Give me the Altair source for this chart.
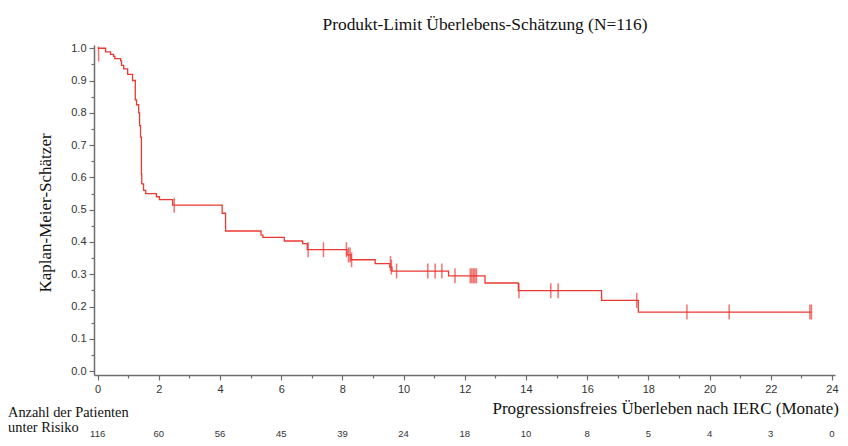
import altair as alt
import pandas as pd

# Kaplan-Meier step curve (event times, survival after event)
km_time = [0, 0.26, 0.42, 0.52, 0.56, 0.75, 0.78, 0.85, 0.98, 1.14, 1.23, 1.27, 1.34, 1.37,
           1.40, 1.43, 1.44, 1.50, 1.57, 1.92, 2.02, 2.45, 4.07, 4.18, 5.34, 5.40, 6.10,
           6.70, 6.85, 8.15, 8.28, 9.07, 9.55, 9.62, 11.47, 12.66, 13.75, 16.47, 17.67, 23.33]
km_surv = [1.0, 0.989, 0.981, 0.975, 0.968, 0.961, 0.947, 0.936, 0.919, 0.90, 0.84, 0.825,
           0.80, 0.76, 0.725, 0.61, 0.58, 0.56, 0.55, 0.54, 0.531, 0.514, 0.489, 0.434,
           0.421, 0.414, 0.403, 0.395, 0.376, 0.36, 0.345, 0.333, 0.322, 0.31, 0.295, 0.273,
           0.249, 0.219, 0.183, 0.183]

# censored observations
cens_time = [0.03, 2.50, 6.88, 7.38, 8.13, 8.20, 8.25, 8.30, 9.57, 9.60, 9.77, 10.79, 11.03,
             11.25, 11.68, 12.18, 12.23, 12.28, 12.33, 12.38, 13.77, 14.81, 15.05, 17.62,
             19.26, 20.64, 23.28, 23.33]
cens_surv = [0.982, 0.514, 0.376, 0.376, 0.376, 0.36, 0.36, 0.345, 0.333, 0.322, 0.31, 0.31,
             0.31, 0.31, 0.295, 0.295, 0.295, 0.295, 0.295, 0.295, 0.249, 0.249, 0.249,
             0.219, 0.183, 0.183, 0.183, 0.183]

# number at risk table
risk_time = [0, 2, 4, 6, 8, 10, 12, 14, 16, 18, 20, 22, 24]
risk_n = [116, 60, 56, 45, 39, 24, 18, 10, 8, 5, 4, 3, 0]

# axis ticks
x_major = [0, 2, 4, 6, 8, 10, 12, 14, 16, 18, 20, 22, 24]
x_minor = [1, 3, 5, 7, 9, 11, 13, 15, 17, 19, 21, 23]
y_major = [0.0, 0.1, 0.2, 0.3, 0.4, 0.5, 0.6, 0.7, 0.8, 0.9, 1.0]
y_minor = [0.05, 0.15, 0.25, 0.35, 0.45, 0.55, 0.65, 0.75, 0.85, 0.95]

title_text = "Produkt-Limit Überlebens-Schätzung (N=116)"
x_title = "Progressionsfreies Überleben nach IERC (Monate)"
y_title = "Kaplan-Meier-Schätzer"
risk_label = ["Anzahl der Patienten", "unter Risiko"]

RED = "#ec3833"
AXC = "#6e6e6e"
SERIF = "Liberation Serif"
SANS = "Liberation Sans"

km = pd.DataFrame({"t": km_time, "s": km_surv})
cens = pd.DataFrame({"t": cens_time, "s": cens_surv})
risk = pd.DataFrame({"t": risk_time, "n": [str(v) for v in risk_n]})

xscale = alt.Scale(domain=[-0.12, 24.1], nice=False, zero=False)
yscale = alt.Scale(domain=[-0.012, 1.01], nice=False, zero=False)

common = dict(grid=False, title=None, labelFont=SANS, labelFontSize=11, labelColor="#333333",
              domainColor=AXC, domainWidth=1.5, tickColor=AXC, tickWidth=1.2,
              labelPadding=3, labelFlush=False, labelOverlap=False)

xaxis = alt.Axis(values=x_major, tickSize=5, orient="bottom", **common)
yaxis = alt.Axis(values=y_major, tickSize=5, format=".1f", orient="left", **common)
xaxis_minor = alt.Axis(values=x_minor, tickSize=3, labels=False, domain=False, grid=False,
                       title=None, tickColor=AXC, tickWidth=1.2, orient="bottom")
yaxis_minor = alt.Axis(values=y_minor, tickSize=3, labels=False, domain=False, grid=False,
                       title=None, tickColor=AXC, tickWidth=1.2, orient="left")

line = alt.Chart(km).mark_line(interpolate="step-after", color=RED, strokeWidth=1.3).encode(
    x=alt.X("t:Q", scale=xscale, axis=xaxis),
    y=alt.Y("s:Q", scale=yscale, axis=yaxis),
)

minor = alt.Chart(km).mark_point(opacity=0).encode(
    x=alt.X("t:Q", scale=xscale, axis=xaxis_minor),
    y=alt.Y("s:Q", scale=yscale, axis=yaxis_minor),
)

ticks = alt.Chart(cens).mark_tick(orient="vertical", color=RED, size=15, thickness=1.5).encode(
    x=alt.X("t:Q", scale=xscale, axis=None),
    y=alt.Y("s:Q", scale=yscale, axis=None),
)

risk_text = alt.Chart(risk).mark_text(font=SANS, fontSize=9.5, color="#333333",
                                      align="center", baseline="alphabetic").encode(
    x=alt.X("t:Q", scale=xscale, axis=None),
    y=alt.value(392),
    text="n:N",
)

title = alt.Chart(pd.DataFrame({"txt": [title_text]})).mark_text(
    font=SERIF, fontSize=17.4, color="#111111", align="center", baseline="alphabetic"
).encode(x=alt.value(391), y=alt.value(-15), text="txt:N")

xt = alt.Chart(pd.DataFrame({"txt": [x_title]})).mark_text(
    font=SERIF, fontSize=17, color="#111111", align="right", baseline="alphabetic"
).encode(x=alt.value(745), y=alt.value(369), text="txt:N")

yt = alt.Chart(pd.DataFrame({"txt": [y_title]})).mark_text(
    font=SERIF, fontSize=17, color="#111111", align="center", baseline="middle", angle=270
).encode(x=alt.value(-48), y=alt.value(168), text="txt:N")

rl = alt.Chart(pd.DataFrame({"txt": risk_label, "yy": [372, 387]})).mark_text(
    font=SERIF, fontSize=14.4, color="#111111", align="left", baseline="alphabetic"
).encode(x=alt.value(-86), y=alt.Y("yy:Q", scale=None), text="txt:N")

chart = alt.layer(line, minor, ticks, risk_text, title, xt, yt, rl).resolve_axis(
    x="independent", y="independent"
).properties(
    width=741, height=330,
    autosize=alt.AutoSizeParams(type="none"),
    padding={"left": 86, "top": 37, "right": 5, "bottom": 63},
).configure_view(stroke=None)

chart.save("out.html", embed_options={"renderer": "svg", "actions": False})
